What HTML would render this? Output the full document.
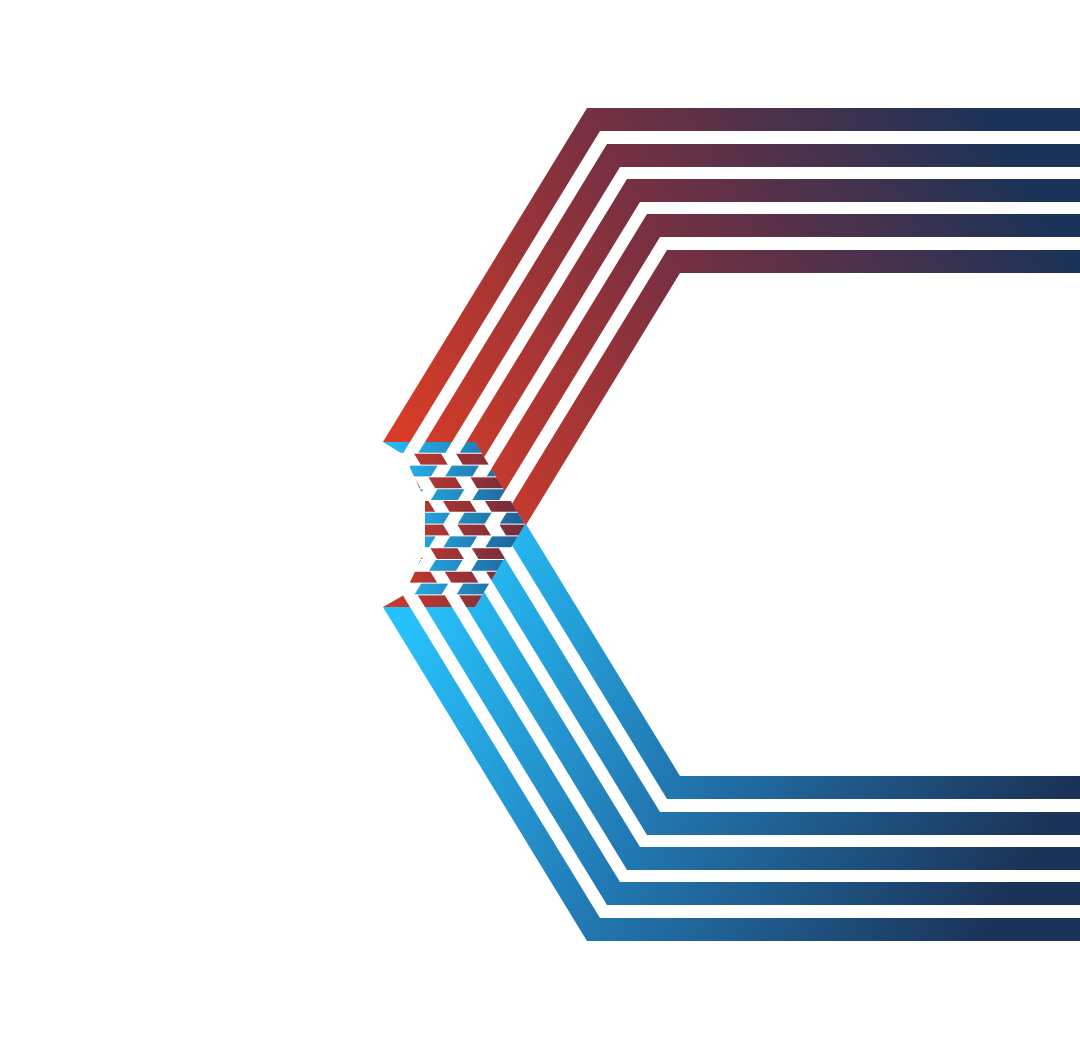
<!DOCTYPE html>
<html><head><meta charset="utf-8"><style>html,body{margin:0;padding:0;background:#fff;}svg{display:block}</style></head>
<body>
<svg width="1080" height="1051" viewBox="0 0 1080 1051" xmlns="http://www.w3.org/2000/svg">
<defs>
<linearGradient id="red" gradientUnits="userSpaceOnUse" x1="420" y1="470" x2="1000" y2="140">
<stop offset="0" stop-color="#d83c27"/><stop offset="0.45" stop-color="#7c3040"/><stop offset="1" stop-color="#1b3358"/>
</linearGradient>
<!-- blue defined in mirrored coordinates -->
<linearGradient id="blue" gradientUnits="userSpaceOnUse" x1="430" y1="460" x2="1000" y2="140">
<stop offset="0" stop-color="#26c1fc"/><stop offset="0.45" stop-color="#2279b3"/><stop offset="1" stop-color="#1b3358"/>
</linearGradient>
<linearGradient id="wb" gradientUnits="userSpaceOnUse" x1="380" y1="0" x2="530" y2="0">
<stop offset="0" stop-color="#26c1fc"/><stop offset="1" stop-color="#1d5c8e"/>
</linearGradient>
<linearGradient id="wr" gradientUnits="userSpaceOnUse" x1="380" y1="0" x2="530" y2="0">
<stop offset="0" stop-color="#d23b28"/><stop offset="1" stop-color="#6a2c40"/>
</linearGradient>
<clipPath id="mainclip"><path clip-rule="evenodd" d="M0 0H1080V1051H0Z M0 442H475L525 524.5L475 607H0Z"/></clipPath>
<clipPath id="weaveclip"><path d="M383 442H475L525 524.5L475 607H383L404 595L425 550L425 500L404 455Z"/></clipPath>
<clipPath id="rowsA">
<rect x="0" y="442" width="1080" height="10.8"/><rect x="0" y="465.6" width="1080" height="10.8"/>
<rect x="0" y="489.2" width="1080" height="10.8"/><rect x="0" y="512.8" width="1080" height="10.8"/>
<rect x="0" y="536.4" width="1080" height="10.8"/><rect x="0" y="560" width="1080" height="10.8"/>
<rect x="0" y="583.6" width="1080" height="10.8"/>
</clipPath>
<clipPath id="rowsB">
<rect x="0" y="453.8" width="1080" height="10.8"/><rect x="0" y="477.4" width="1080" height="10.8"/>
<rect x="0" y="501" width="1080" height="10.8"/><rect x="0" y="524.6" width="1080" height="10.8"/>
<rect x="0" y="548.2" width="1080" height="10.8"/><rect x="0" y="571.8" width="1080" height="10.8"/>
<rect x="0" y="595.4" width="1080" height="11.6"/>
</clipPath>
<g id="stripes">
<polygon points="1080,108 587,108 332.5,524.5 359.6,524.5 600,131 1080,131"/>
<polygon points="1080,144 607,144 374.5,524.5 401.6,524.5 620,167 1080,167"/>
<polygon points="1080,179 627,179 415.9,524.5 443,524.5 640,202 1080,202"/>
<polygon points="1080,214 647,214 457.3,524.5 484.3,524.5 660,237 1080,237"/>
<polygon points="1080,250 667,250 499.3,524.5 526.3,524.5 680,273 1080,273"/>
</g>
<g id="ext">
<polygon points="587,108 282.1,607 309.2,607 600,131"/>
<polygon points="607,144 324.1,607 351.2,607 620,167"/>
<polygon points="627,179 365.5,607 392.5,607 640,202"/>
<polygon points="647,214 406.9,607 433.9,607 660,237"/>
<polygon points="667,250 448.9,607 475.9,607 680,273"/>
</g>
</defs>
<g clip-path="url(#mainclip)">
<use href="#stripes" fill="url(#red)"/>
<g transform="matrix(1,0,0,-1,0,1049)"><use href="#stripes" fill="url(#blue)"/></g>
</g>
<g clip-path="url(#weaveclip)">
<g clip-path="url(#rowsA)"><use href="#ext" fill="url(#wb)"/></g>
<g clip-path="url(#rowsB)"><g transform="matrix(1,0,0,-1,0,1049)"><use href="#ext" fill="url(#wr)"/></g></g>
</g>
</svg>
</body></html>
